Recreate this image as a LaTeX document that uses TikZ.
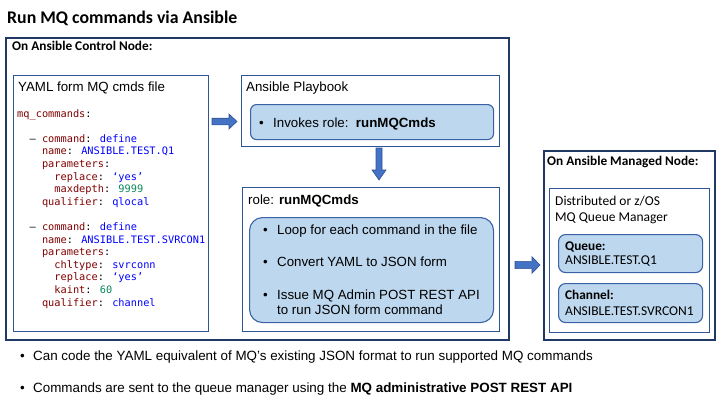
\documentclass[tikz,border=0pt]{standalone}
\usepackage{fontspec}
\setmainfont{Liberation Sans}
\newfontfamily\calfont{Carlito}
\newfontfamily\codefont{DejaVu Sans Mono}
\definecolor{navy}{HTML}{1F3864}
\definecolor{midblue}{HTML}{2F5597}
\definecolor{lightfill}{HTML}{BDD7EE}
\definecolor{boxline}{HTML}{3A62A6}
\definecolor{arrowfill}{HTML}{4472C4}
\definecolor{arrowline}{HTML}{2F528F}
\definecolor{keyc}{HTML}{800000}
\definecolor{valc}{HTML}{0000FF}
\definecolor{numc}{HTML}{098658}
\newcommand\ykey[1]{\textcolor{keyc}{#1}}
\newcommand\yval[1]{\textcolor{valc}{#1}}
\newcommand\ynum[1]{\textcolor{numc}{#1}}
\tikzset{
  outerbox/.style={draw=navy, line width=1.5pt, anchor=north west, inner sep=0pt},
  innerbox/.style={draw=midblue, line width=1.1pt, anchor=north west, inner sep=0pt},
  bluebox/.style={draw=boxline, fill=lightfill, line width=1.1pt, anchor=north west, inner sep=0pt},
  blockarrow/.style={draw=arrowline, fill=arrowfill, line width=0.6pt, line join=miter},
  txt/.style={anchor=base west, inner sep=0pt, font=\fontsize{13.3}{15}\selectfont},
  caltxt/.style={anchor=base west, inner sep=0pt, font=\calfont\fontsize{13.5}{15}\selectfont},
  calbold/.style={anchor=base west, inner sep=0pt, font=\calfont\bfseries\fontsize{13.3}{15}\selectfont},
  codetxt/.style={anchor=base west, inner sep=0pt, font=\codefont\fontsize{10.3}{12}\selectfont},
  bottomtxt/.style={anchor=base west, inner sep=0pt, font=\fontsize{13.4}{15}\selectfont},
}
\begin{document}
\begin{tikzpicture}[x=1pt,y=-1pt]
\useasboundingbox (0,0) rectangle (720,405);
% title
\node[anchor=base west, inner sep=0pt, font=\calfont\bfseries\fontsize{17.8}{20}\selectfont] (title) at (7,23) {Run MQ commands via Ansible};
% control node
\node[outerbox, minimum width=503pt, minimum height=302pt] (ctrl) at (5,37) {};
\node[calbold] (ctrllbl) at (12,50) {On Ansible Control Node:};
% YAML box
\node[innerbox, minimum width=195pt, minimum height=256pt] (yaml) at (13,75) {};
\node[txt] (yamllbl) at (18,91) {YAML form MQ cmds file};
\node[codetxt] (c0) at (17,117) {\ykey{mq\_commands}:};
\node[codetxt] (c1) at (29.4,142.2) {– \ykey{command}: \yval{define}};
\node[codetxt] (c2) at (41.8,154.8) {\ykey{name}: \yval{ANSIBLE.TEST.Q1}};
\node[codetxt] (c3) at (41.8,167.4) {\ykey{parameters}:};
\node[codetxt] (c4) at (54.2,180) {\ykey{replace}: \yval{‘yes’}};
\node[codetxt] (c5) at (54.2,192.6) {\ykey{maxdepth}: \ynum{9999}};
\node[codetxt] (c6) at (41.8,205.2) {\ykey{qualifier}: \yval{qlocal}};
\node[codetxt] (c7) at (29.4,230.4) {– \ykey{command}: \yval{define}};
\node[codetxt] (c8) at (41.8,243) {\ykey{name}: \yval{ANSIBLE.TEST.SVRCON1}};
\node[codetxt] (c9) at (41.8,255.6) {\ykey{parameters}:};
\node[codetxt] (c10) at (54.2,268.2) {\ykey{chltype}: \yval{svrconn}};
\node[codetxt] (c11) at (54.2,280.8) {\ykey{replace}: \yval{‘yes’}};
\node[codetxt] (c12) at (54.2,293.4) {\ykey{kaint}: \ynum{60}};
\node[codetxt] (c13) at (41.8,306) {\ykey{qualifier}: \yval{channel}};
% playbook
\node[innerbox, minimum width=258pt, minimum height=71pt] (play) at (241,75) {};
\node[txt] (playlbl) at (246,91) {Ansible Playbook};
\node[bluebox, minimum width=243pt, minimum height=35pt, rounded corners=6pt] (playin) at (250,104) {};
\node[txt] (pb1) at (259,127) {•};
\node[txt] (pt1) at (273,127) {Invokes role:\ \ \textbf{runMQCmds}};
% role
\node[innerbox, minimum width=257pt, minimum height=144pt] (role) at (242,187) {};
\node[txt] (rolelbl) at (248,204) {role: \textbf{runMQCmds}};
\node[bluebox, minimum width=244pt, minimum height=105pt, rounded corners=13pt] (rolein) at (249,217) {};
\node[txt] (rb1) at (263,234) {•};
\node[txt] (rt1) at (277,234) {Loop for each command in the file};
\node[txt] (rb2) at (263,266) {•};
\node[txt] (rt2) at (277,266) {Convert YAML to JSON form};
\node[txt] (rb3) at (263,299.3) {•};
\node[txt] (rt3) at (277,299.3) {Issue MQ Admin POST REST API};
\node[txt] (rt4) at (277,314) {to run JSON form command};
% managed node
\node[outerbox, minimum width=171pt, minimum height=189pt] (mng) at (543,150) {};
\node[calbold] (mnglbl) at (547,165) {On Ansible Managed Node:};
\node[innerbox, minimum width=160pt, minimum height=144pt] (qm) at (549,188) {};
\node[caltxt] (qm1) at (555,205) {Distributed or z/OS};
\node[caltxt] (qm2) at (555,221) {MQ Queue Manager};
\node[bluebox, minimum width=144pt, minimum height=38pt, rounded corners=7pt] (queue) at (558,234) {};
\node[calbold] (ql) at (565,250) {Queue:};
\node[caltxt] (qn) at (565,264) {ANSIBLE.TEST.Q1};
\node[bluebox, minimum width=144pt, minimum height=39pt, rounded corners=7pt] (chan) at (558,283) {};
\node[calbold] (cl) at (565,299.3) {Channel:};
\node[caltxt] (cn) at (565,315) {ANSIBLE.TEST.SVRCON1};
% block arrows
\coordinate (a1) at (212,121.5);
\draw[blockarrow, shift={(a1)}] (0,-3.3) -- (17,-3.3) -- (17,-7.5) -- (25,0) -- (17,7.5) -- (17,3.3) -- (0,3.3) -- cycle;
\coordinate (a2) at (379,148);
\draw[blockarrow, shift={(a2)}] (-3,0) -- (-3,22) -- (-7,22) -- (0,32) -- (7,22) -- (3,22) -- (3,0) -- cycle;
\coordinate (a3) at (515,265);
\draw[blockarrow, shift={(a3)}] (0,-3.6) -- (17,-3.6) -- (17,-8.2) -- (25,0) -- (17,8.2) -- (17,3.6) -- (0,3.6) -- cycle;
% bottom bullets
\node[bottomtxt] (bb1) at (20,360) {•};
\node[bottomtxt] (bt1) at (33,360) {Can code the YAML equivalent of MQ’s existing JSON format to run supported MQ commands};
\node[bottomtxt] (bb2) at (20,392) {•};
\node[bottomtxt] (bt2) at (33,392) {Commands are sent to the queue manager using the \textbf{MQ administrative POST REST API}};
\end{tikzpicture}
\end{document}
